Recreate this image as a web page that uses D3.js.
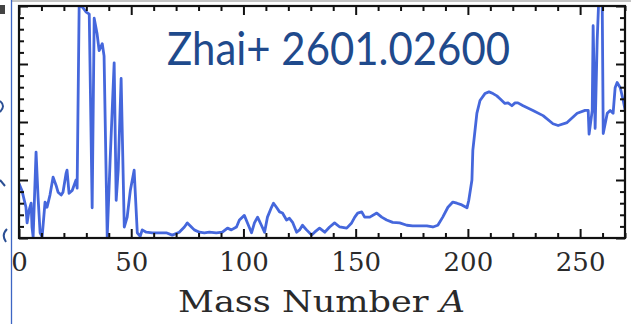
<!DOCTYPE html>
<html>
<head>
<meta charset="utf-8">
<script src="https://cdn.jsdelivr.net/npm/d3@7"></script>
<style>
  html, body { margin: 0; padding: 0; background: #fff; }
  svg { display: block; }
</style>
</head>
<body>
<svg id="chart" width="631" height="324"></svg>
<script>
// ---- data ----
const massNumber = [
  0, 1.3, 3.1, 3.6, 4.5, 5.4, 5.8, 6.3, 7.6, 8.5, 9.4, 10.3, 11.6, 12.5, 13.8, 15.2, 16.5, 17.4, 18.8, 19.6,
  21.0, 21.4, 22.3, 23.7, 25.4, 25.9, 26.8, 28.3, 29.8, 31.3, 32.6, 33.5, 34.8, 35.7, 37.1, 37.9,
  39.3, 40.6, 42.4, 43.3, 44.2, 45.5, 46.9, 48.2, 49.6, 51.3, 52.7, 54.0, 54.9, 56.7, 59.4, 62.5,
  65.6, 68.3, 71.4, 73.7, 75.0, 76.8, 78.1, 80.4, 82.6, 84.8, 87.9, 90.6, 92.9, 94.6, 96.9, 98.2,
  100.4, 101.8, 103.6, 104.9, 106.3, 108.0, 109.4, 110.7, 112.5, 113.4, 114.7, 116.1, 117.4, 119.2,
  120.5, 121.9, 123.7, 125.0, 126.3, 128.1, 130.4, 131.7, 133.9, 136.2, 138.4, 140.6, 142.9, 146.0,
  148.2, 149.6, 150.9, 152.7, 154.0, 156.3, 159.4, 161.6, 163.8, 166.5, 169.6, 172.8, 175.4, 178.6,
  181.7, 184.4, 186.6, 188.8, 191.1, 193.3, 195.1, 197.3, 199.6, 200.4, 201.8, 202.2, 204.0, 205.4,
  207.6, 209.4, 211.2, 212.9, 214.3, 216.5, 217.9, 219.6, 221.0, 222.3, 224.6, 229.0, 233.5, 237.9,
  240.2, 244.2, 248.7, 252.2, 253.6, 254.0, 255.4, 255.8, 256.7, 257.6, 258.5, 259.8, 260.3, 262.1,
  263.4, 264.7, 265.6, 266.5, 267.9, 269.2, 270.1
];
const abundance = [
  0.94, 0.82, 0.53, 0.26, 0.48, 0.60, 0.19, 0.02, 1.48, 0.70, 0.09, 0.02, 0.62, 0.53, 0.74, 1.05, 0.91, 0.79, 0.74, 0.79,
  1.12, 1.17, 0.77, 0.82, 1.00, 0.86, 4.00, 3.98, 3.90, 3.86, 0.52, 3.79, 3.52, 3.23, 3.35, 3.14,
  0.02, 1.34, 3.02, 0.65, 1.17, 2.75, 0.19, 0.36, 0.82, 1.17, 0.09, 0.03, 0.14, 0.10, 0.09, 0.09,
  0.09, 0.05, 0.10, 0.19, 0.26, 0.19, 0.14, 0.10, 0.09, 0.10, 0.09, 0.10, 0.17, 0.14, 0.19, 0.31,
  0.39, 0.26, 0.09, 0.26, 0.36, 0.22, 0.10, 0.36, 0.53, 0.60, 0.53, 0.45, 0.43, 0.31,
  0.34, 0.27, 0.10, 0.14, 0.22, 0.14, 0.05, 0.10, 0.17, 0.10, 0.19, 0.26, 0.19, 0.17,
  0.26, 0.36, 0.43, 0.45, 0.36, 0.36, 0.43, 0.36, 0.31, 0.27, 0.26, 0.22, 0.21, 0.21,
  0.21, 0.19, 0.22, 0.36, 0.53, 0.62, 0.60, 0.57, 0.52, 0.65, 1.00, 1.51, 2.15, 2.37,
  2.49, 2.52, 2.49, 2.45, 2.40, 2.32, 2.33, 2.28, 2.33, 2.33, 2.28, 2.20, 2.11, 1.97,
  1.94, 1.99, 2.15, 2.20, 2.20, 1.79, 2.20, 3.66, 1.89, 3.40, 4.30, 4.30, 1.80, 2.15,
  2.20, 2.15, 2.59, 2.68, 2.59, 2.37, 2.20
];
const xMajorTicks = [0, 50, 100, 150, 200, 250];
const xTickLabels = ["0", "50", "100", "150", "200", "250"];
const yMajorTicks = [0, 1, 2, 3, 4];
const titleText = "Zhai+ 2601.02600";
const xAxisTitle = "Mass Number ";
const xAxisVar = "A";

// ---- layout ----
const svg = d3.select("#chart");
const L = 19, R = 625, T = 6, B = 238;
const x = d3.scaleLinear().domain([0, 270]).range([L, R]);
const y = d3.scaleLinear().domain([0, 4]).range([B, T]);

const xMinor = d3.range(0, 271, 10).filter(v => v % 50 !== 0);
const yMinor = d3.range(0, 4.001, 0.2).map(v => +v.toFixed(1)).filter(v => Math.abs(v - Math.round(v)) > 1e-6);

// slide decorations (outside the chart)
svg.append("line").attr("x1", 12).attr("x2", 631).attr("y1", 1).attr("y2", 1)
  .attr("stroke", "#c4c4c4").attr("stroke-width", 2);
svg.append("line").attr("x1", 11.5).attr("x2", 11.5).attr("y1", 0).attr("y2", 324)
  .attr("stroke", "#3d66c4").attr("stroke-width", 1.3);
svg.append("rect").attr("x", 0).attr("y", 5).attr("width", 5).attr("height", 9).attr("fill", "#444");
const frag = svg.append("g").attr("fill", "none").attr("stroke", "#2b4f94").attr("stroke-width", 2);
frag.append("path").attr("d", "M0,101 Q6,106 0,112");
frag.append("path").attr("d", "M0,180 L5,186");
frag.append("path").attr("d", "M7,229 Q1,235 6,242");

// clip
svg.append("clipPath").attr("id", "plotclip").append("rect")
  .attr("x", L).attr("y", T).attr("width", R - L).attr("height", B - T);

// line
const pts = massNumber.map((m, i) => [m, abundance[i]]);
const line = d3.line().x(d => x(d[0])).y(d => y(d[1]));
svg.append("path").datum(pts)
  .attr("clip-path", "url(#plotclip)")
  .attr("d", line)
  .attr("fill", "none")
  .attr("stroke", "#4567dc")
  .attr("stroke-width", 2.8)
  .attr("stroke-linejoin", "round");

// axes with inward ticks
function styleAxis(g) {
  g.select(".domain").remove();
  g.selectAll(".tick line").attr("stroke", "#111").attr("stroke-width", 2);
}
const majLen = 9, minLen = 5;
svg.append("g").attr("transform", `translate(0,${B})`)
  .call(d3.axisBottom(x).tickValues(xMajorTicks).tickSize(-majLen).tickPadding(15)
    .tickFormat((d, i) => xTickLabels[i]))
  .call(styleAxis)
  .call(g => g.selectAll("text").attr("font-family", "DejaVu Serif").attr("font-size", 26).attr("fill", "#2a2a2a"));
svg.append("g").attr("transform", `translate(0,${B})`)
  .call(d3.axisBottom(x).tickValues(xMinor).tickSize(-minLen).tickFormat(""))
  .call(styleAxis);
svg.append("g").attr("transform", `translate(0,${T})`)
  .call(d3.axisTop(x).tickValues(xMajorTicks).tickSize(-majLen).tickFormat(""))
  .call(styleAxis);
svg.append("g").attr("transform", `translate(0,${T})`)
  .call(d3.axisTop(x).tickValues(xMinor).tickSize(-minLen).tickFormat(""))
  .call(styleAxis);
svg.append("g").attr("transform", `translate(${L},0)`)
  .call(d3.axisLeft(y).tickValues(yMajorTicks).tickSize(-majLen).tickFormat(""))
  .call(styleAxis);
svg.append("g").attr("transform", `translate(${L},0)`)
  .call(d3.axisLeft(y).tickValues(yMinor).tickSize(-minLen).tickFormat(""))
  .call(styleAxis);
svg.append("g").attr("transform", `translate(${R},0)`)
  .call(d3.axisRight(y).tickValues(yMajorTicks).tickSize(-majLen).tickFormat(""))
  .call(styleAxis);
svg.append("g").attr("transform", `translate(${R},0)`)
  .call(d3.axisRight(y).tickValues(yMinor).tickSize(-minLen).tickFormat(""))
  .call(styleAxis);

// frame
svg.append("rect").attr("x", L).attr("y", T).attr("width", R - L).attr("height", B - T)
  .attr("fill", "none").attr("stroke", "#111").attr("stroke-width", 2.2);

// axis title
const xt = svg.append("text").attr("x", 178).attr("y", 312)
  .attr("font-family", "DejaVu Serif").attr("font-size", 30).attr("fill", "#2a2a2a")
  .attr("textLength", 287).attr("lengthAdjust", "spacingAndGlyphs");
xt.append("tspan").text(xAxisTitle);
xt.append("tspan").attr("font-style", "italic").text(xAxisVar);

// title
svg.append("text").attr("x", 167).attr("y", 65)
  .attr("font-family", "Lato").attr("font-size", 46).attr("fill", "#1f4a8c")
  .attr("textLength", 343).attr("lengthAdjust", "spacingAndGlyphs")
  .text(titleText);
</script>
</body>
</html>
